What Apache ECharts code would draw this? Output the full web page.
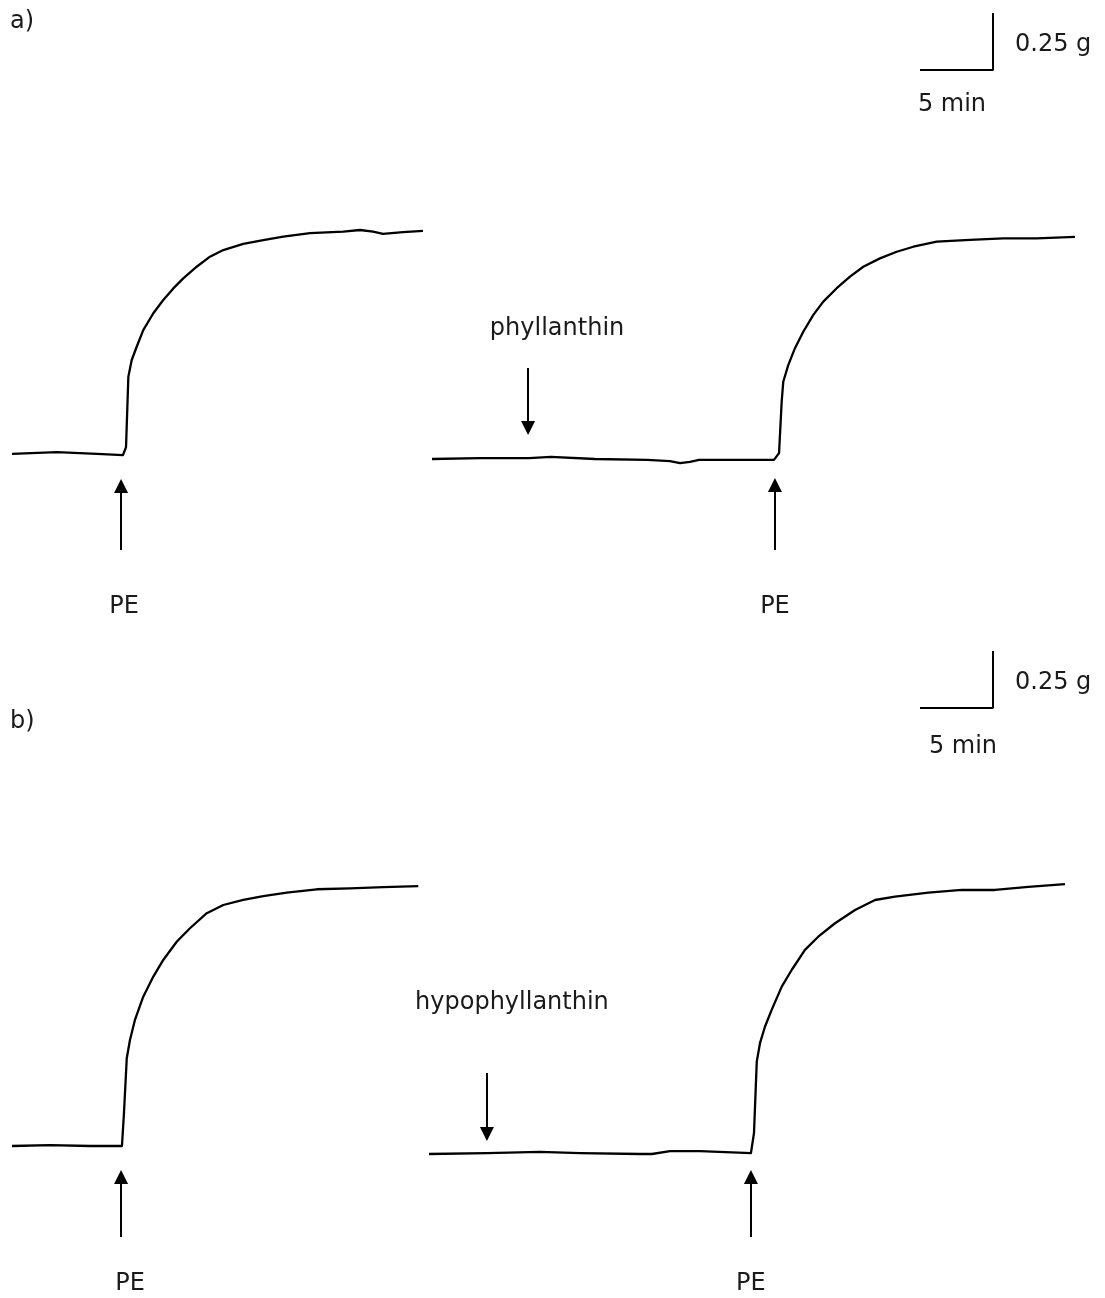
<!DOCTYPE html>
<html>
<head>
<meta charset="utf-8">
<script src="https://cdn.jsdelivr.net/npm/echarts@6/dist/echarts.min.js"></script>
<style>
html, body { margin: 0; background: #fff; }
#main { width: 1105px; height: 1298px; }
</style>
</head>
<body>
<div id="main"></div>
<script>
// isometric tension recordings, time in min, tension in g (relative to baseline)
var timeA1 = [0, 3.08, 5.82, 7.6, 7.81, 7.97, 8.2, 8.54, 8.99, 9.68, 10.36, 11.05, 11.73, 12.65, 13.56, 14.47, 15.84, 17.21, 18.58, 20.41, 22.69, 23.84, 24.73, 25.41, 26.78, 28.15];
var tensA1 = [-0.004, 0.004, -0.004, -0.009, 0.026, 0.335, 0.408, 0.466, 0.539, 0.613, 0.671, 0.722, 0.766, 0.817, 0.861, 0.89, 0.917, 0.934, 0.949, 0.964, 0.971, 0.978, 0.971, 0.961, 0.969, 0.974];

var timeA2 = [0, 3.29, 6.64, 8.15, 11.16, 14.73, 16.3, 16.99, 17.67, 18.29, 21.1, 23.42, 23.77, 23.95, 24.06, 24.4, 24.86, 25.43, 26.12, 26.8, 27.72, 28.63, 29.54, 30.68, 31.83, 32.97, 34.57, 36.85, 39.13, 41.42, 44.04];
var tensA2 = [0, 0.004, 0.004, 0.009, 0, -0.004, -0.009, -0.018, -0.013, -0.004, -0.004, -0.004, 0.026, 0.251, 0.339, 0.412, 0.486, 0.558, 0.632, 0.69, 0.749, 0.8, 0.843, 0.88, 0.909, 0.931, 0.953, 0.961, 0.968, 0.968, 0.974];

var timeB1 = [0, 2.6, 5.34, 7.53, 7.67, 7.86, 8.08, 8.42, 8.99, 9.68, 10.36, 11.28, 12.19, 13.34, 14.47, 15.84, 17.21, 18.82, 20.87, 23.15, 25.43, 27.83];
var tensB1 = [0, 0.004, 0, 0, 0.145, 0.385, 0.465, 0.553, 0.655, 0.743, 0.816, 0.896, 0.955, 1.021, 1.057, 1.079, 1.096, 1.111, 1.126, 1.13, 1.135, 1.14];

var timeB2 = [0, 3.97, 7.6, 10.34, 14.45, 15.27, 16.51, 18.56, 22.05, 22.26, 22.45, 22.67, 23.01, 23.47, 24.16, 24.84, 25.75, 26.66, 27.81, 29.18, 30.55, 31.92, 34.2, 36.49, 38.77, 41.05, 43.56];
var tensB2 = [0, 0.004, 0.009, 0.004, 0, 0, 0.013, 0.013, 0.004, 0.092, 0.405, 0.486, 0.558, 0.632, 0.734, 0.807, 0.895, 0.953, 1.012, 1.07, 1.114, 1.129, 1.146, 1.158, 1.158, 1.172, 1.184];

// time (min) at which PE / the compound was added, per trace
var peTimes = [7.47, 23.49, 7.47, 22.05];
var drugNames = [null, 'phyllanthin', null, 'hypophyllanthin'];
var drugTimes = [null, 6.58, null, 3.97];

// scale bar
var scaleTime = 5;
var scaleTension = 0.25;

var PX_PER_MIN = 73 / 5;
var PX_PER_G = 57 / 0.25;
var FONT = 'DejaVu Sans';
var INK = '#1a1a1a';
var PAGE_H = 1298;

// where each trace sits on the page (px), and annotation offsets from the baseline (px)
var traces = [
  {t: timeA1, g: tensA1, x0: 12,  y0: 453,  w: 415, tip: 33, tail: 97, pe: 154, peDx: 3},
  {t: timeA2, g: tensA2, x0: 432, y0: 459,  w: 650, tip: 26, tail: 91, pe: 148, peDx: 0, dTip: 31, dTail: 91, dTxt: 130, dDx: 29},
  {t: timeB1, g: tensB1, x0: 12,  y0: 1146, w: 412, tip: 31, tail: 91, pe: 138, peDx: 9},
  {t: timeB2, g: tensB2, x0: 429, y0: 1154, w: 645, tip: 23, tail: 83, pe: 130, peDx: 0, dTip: 20, dTail: 81, dTxt: 151, dDx: 25}
];

var grids = [], xAxes = [], yAxes = [], series = [];
var ABOVE = 300;

function g(dy) { return -dy / PX_PER_G; }

traces.forEach(function (tr, i) {
  var below = Math.min(200, PAGE_H - tr.y0 - 2);
  grids.push({left: tr.x0, top: tr.y0 - ABOVE, width: tr.w, height: ABOVE + below});
  xAxes.push({type: 'value', gridIndex: i, min: 0, max: tr.w / PX_PER_MIN, show: false});
  yAxes.push({type: 'value', gridIndex: i, min: -below / PX_PER_G, max: ABOVE / PX_PER_G, show: false});

  var data = tr.t.map(function (t, k) { return [t, tr.g[k]]; });
  var arrows = [[{coord: [peTimes[i], g(tr.tail)]}, {coord: [peTimes[i], g(tr.tip)]}]];
  var labels = [{name: 'PE', coord: [peTimes[i] + tr.peDx / PX_PER_MIN, g(tr.pe)]}];
  if (drugNames[i]) {
    arrows.push([{coord: [drugTimes[i], g(-tr.dTail)]}, {coord: [drugTimes[i], g(-tr.dTip)]}]);
    labels.push({name: drugNames[i], coord: [drugTimes[i] + tr.dDx / PX_PER_MIN, g(-tr.dTxt)]});
  }

  series.push({
    type: 'line',
    xAxisIndex: i,
    yAxisIndex: i,
    data: data,
    symbol: 'none',
    silent: true,
    lineStyle: {color: '#000', width: 2.3, join: 'round'},
    markLine: {
      silent: true,
      symbol: ['none', 'triangle'],
      symbolSize: 14,
      itemStyle: {color: '#000'},
      lineStyle: {color: '#000', width: 2, type: 'solid'},
      label: {show: false},
      emphasis: {disabled: true},
      data: arrows
    },
    markPoint: {
      silent: true,
      symbol: 'circle',
      symbolSize: 1,
      itemStyle: {color: 'rgba(0,0,0,0)'},
      label: {show: true, position: 'inside', formatter: '{b}', color: INK, fontSize: 24, fontFamily: FONT},
      data: labels
    }
  });
});

// scale bars, one per panel
[13, 651].forEach(function (top, j) {
  var idx = traces.length + j;
  grids.push({left: 920, top: top, width: scaleTime * PX_PER_MIN, height: scaleTension * PX_PER_G});
  xAxes.push({type: 'value', gridIndex: idx, min: 0, max: scaleTime, show: false});
  yAxes.push({type: 'value', gridIndex: idx, min: 0, max: scaleTension, show: false});
  series.push({
    type: 'line',
    xAxisIndex: idx,
    yAxisIndex: idx,
    data: [[0, 0], [scaleTime, 0], [scaleTime, scaleTension]],
    symbol: 'none',
    silent: true,
    clip: false,
    lineStyle: {color: '#000', width: 2}
  });
});

function txt(s, x, y, align) {
  return {
    type: 'text', x: x, y: y, silent: true,
    style: {text: s, font: '24px "' + FONT + '"', fill: INK, textAlign: align || 'left', textVerticalAlign: 'middle'}
  };
}

var chart = echarts.init(document.getElementById('main'), null, {renderer: 'canvas'});
chart.setOption({
  backgroundColor: '#fff',
  animation: false,
  grid: grids,
  xAxis: xAxes,
  yAxis: yAxes,
  series: series,
  graphic: [
    txt('a)', 10, 22),
    txt('0.25 g', 1015, 45),
    txt('5 min', 952, 105, 'center'),
    txt('b)', 10, 722),
    txt('0.25 g', 1015, 683),
    txt('5 min', 963, 747, 'center')
  ]
});
</script>
</body>
</html>
